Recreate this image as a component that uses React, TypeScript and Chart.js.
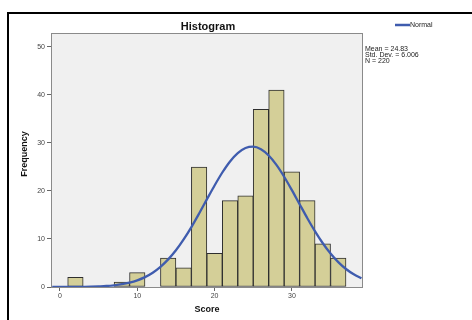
import React, { useEffect, useRef } from "react";
import { Chart, registerables } from "chart.js";

Chart.register(...registerables);

// Histogram bins (start of each 2-wide bin) and counts
const binStarts = [1, 3, 5, 7, 9, 11, 13, 15, 17, 19, 21, 23, 25, 27, 29, 31, 33, 35];
const binCounts = [2, 0, 0, 1, 3, 0, 6, 4, 25, 7, 18, 19, 37, 41, 24, 18, 9, 6];
const binWidth = 2;

// Normal curve points
const curveX = [-1, 0, 1, 2, 3, 4, 5, 6, 7, 8, 9, 10, 11, 12, 13, 14, 15, 16, 17, 18, 19, 20, 21, 22, 23, 24, 25, 26, 27, 28, 29, 30, 31, 32, 33, 34, 35, 36, 37, 38, 39];
const curveY = [0.0, 0.01, 0.01, 0.02, 0.04, 0.07, 0.13, 0.21, 0.36, 0.58, 0.91, 1.39, 2.06, 2.98, 4.2, 5.75, 7.66, 9.92, 12.49, 15.31, 18.25, 21.15, 23.85, 26.16, 27.9, 28.95, 29.22, 28.68, 27.38, 25.43, 22.97, 20.18, 17.24, 14.33, 11.59, 9.11, 6.97, 5.18, 3.75, 2.64, 1.81];

const xTicks = [0, 10, 20, 30];
const yTicks = [0, 10, 20, 30, 40, 50];
const statLines = ["Mean = 24.83", "Std. Dev. = 6.006", "N = 220"];
const chartTitle = "Histogram";
const xTitle = "Score";
const yTitle = "Frequency";
const legendLabel = "Normal";

const FONT = "'Liberation Sans', Arial, sans-serif";
const CURVE = "#3f5cae";

const decor = {
  id: "decor",
  beforeDraw(chart: any) {
    const { ctx, chartArea: a } = chart;
    ctx.save();
    ctx.fillStyle = "#ffffff";
    ctx.fillRect(0, 0, chart.width, chart.height);
    ctx.fillStyle = "#f0f0f0";
    ctx.fillRect(a.left, a.top, a.right - a.left, a.bottom - a.top);
    ctx.restore();
  },
  afterDraw(chart: any) {
    const { ctx, chartArea: a } = chart;
    ctx.save();
    // plot frame
    ctx.strokeStyle = "#8a8a8a";
    ctx.lineWidth = 1;
    ctx.strokeRect(a.left - 0.5, a.top - 0.5, a.right - a.left + 1, a.bottom - a.top + 1);
    // outer black frame
    ctx.strokeStyle = "#000";
    ctx.lineWidth = 2;
    ctx.strokeRect(8, 13, 600, 400);
    // title
    ctx.fillStyle = "#111";
    ctx.textAlign = "center";
    ctx.textBaseline = "middle";
    ctx.font = `bold 11px ${FONT}`;
    ctx.fillText(chartTitle, (a.left + a.right) / 2 + 1, 27);
    // x title
    ctx.font = `bold 9px ${FONT}`;
    ctx.fillText(xTitle, (a.left + a.right) / 2, 310);
    // y title
    ctx.save();
    ctx.translate(25, 154);
    ctx.rotate(-Math.PI / 2);
    ctx.fillText(yTitle, 0, 0);
    ctx.restore();
    // legend
    ctx.strokeStyle = CURVE;
    ctx.lineWidth = 2.5;
    ctx.beginPath();
    ctx.moveTo(395, 25);
    ctx.lineTo(410, 25);
    ctx.stroke();
    ctx.font = `7px ${FONT}`;
    ctx.textAlign = "left";
    ctx.fillStyle = "#222";
    ctx.fillText(legendLabel, 410, 25.5);
    // stats
    statLines.forEach((s, i) => ctx.fillText(s, 365, 49.5 + i * 5.8));
    ctx.restore();
  },
};

export default function App() {
  const ref = useRef<HTMLCanvasElement | null>(null);
  useEffect(() => {
    document.body.style.margin = "0";
    const barData = binStarts
      .map((s, i) => ({ x: s + binWidth / 2, y: binCounts[i] }))
      .filter((d) => d.y > 0);
    const lineData = curveX.map((x, i) => ({ x, y: curveY[i] }));
    const chart = new Chart(ref.current as HTMLCanvasElement, {
      type: "bar",
      data: {
        datasets: [
          {
            type: "line",
            data: lineData,
            borderColor: CURVE,
            borderWidth: 2.3,
            pointRadius: 0,
            cubicInterpolationMode: "monotone",
            fill: false,
            order: 0,
          } as any,
          {
            type: "bar",
            data: barData,
            backgroundColor: "#d4cf98",
            borderColor: "#2e2e2e",
            borderWidth: 1,
            borderSkipped: false,
            barPercentage: 1,
            categoryPercentage: 1,
            order: 1,
          } as any,
        ],
      },
      options: {
        animation: false,
        responsive: false,
        maintainAspectRatio: false,
        layout: { padding: { left: 0, right: 110, top: 34, bottom: 0 } },
        plugins: { legend: { display: false }, tooltip: { enabled: false }, title: { display: false } },
        scales: {
          x: {
            type: "linear",
            min: -1.03,
            max: 39.07,
            offset: false,
            afterBuildTicks: (s: any) => {
              s.ticks = xTicks.map((v) => ({ value: v }));
            },
            afterFit: (s: any) => {
              s.height = 33;
            },
            border: { display: false },
            grid: { display: true, offset: false, drawOnChartArea: false, drawTicks: true, tickLength: 4, color: "#666" },
            ticks: { font: { size: 7, family: FONT }, color: "#444", padding: 1, maxRotation: 0, autoSkip: false },
          },
          y: {
            type: "linear",
            min: 0,
            max: 52.7,
            afterBuildTicks: (s: any) => {
              s.ticks = yTicks.map((v) => ({ value: v }));
            },
            afterFit: (s: any) => {
              s.width = 52;
            },
            border: { display: false },
            grid: { display: true, offset: false, drawOnChartArea: false, drawTicks: true, tickLength: 5, color: "#666" },
            ticks: { font: { size: 7, family: FONT }, color: "#444", padding: 2, autoSkip: false },
          },
        },
      },
      plugins: [decor],
    });
    return () => chart.destroy();
  }, []);
  return <canvas ref={ref} width={472} height={320} style={{ display: "block" }} />;
}
